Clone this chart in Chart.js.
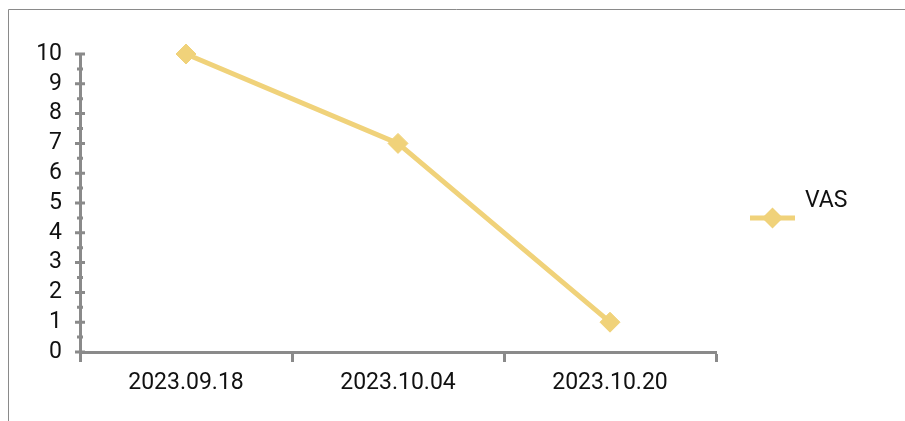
<!DOCTYPE html>
<html>
<head>
<meta charset="utf-8">
<script src="https://cdn.jsdelivr.net/npm/chart.js@4"></script>
<style>
  html, body { margin: 0; padding: 0; background: #fff; }
  #wrap { position: relative; width: 905px; height: 421px; }
</style>
</head>
<body>
<div id="wrap"><canvas id="c" width="905" height="421"></canvas></div>
<script>
const categories = ['2023.09.18', '2023.10.04', '2023.10.20'];
const seriesName = 'VAS';
const vasValues = [10, 7, 1];
const yTicks = [0, 1, 2, 3, 4, 5, 6, 7, 8, 9, 10];

const AXIS = '#8a8a8a';
const GOLD = '#f0d27a';
const FONT = 'Roboto, "Noto Sans", sans-serif';

// frame, crossing y-axis ticks (major + minor) and the legend entry
const decor = {
  id: 'decor',
  afterDraw(chart) {
    const ctx = chart.ctx;
    const y = chart.scales.y;
    const area = chart.chartArea;
    ctx.save();
    // outer frame
    ctx.strokeStyle = AXIS;
    ctx.lineWidth = 1;
    ctx.beginPath();
    ctx.moveTo(8.5, 421);
    ctx.lineTo(8.5, 9.5);
    ctx.lineTo(905, 9.5);
    ctx.stroke();
    // y-axis ticks
    ctx.lineWidth = 3;
    ctx.beginPath();
    yTicks.forEach(v => {
      const py = y.getPixelForValue(v);
      ctx.moveTo(area.left - 5, py);
      ctx.lineTo(area.left + 5, py);
      if (v < yTicks[yTicks.length - 1]) {
        const my = y.getPixelForValue(v + 0.5);
        ctx.moveTo(area.left - 3, my);
        ctx.lineTo(area.left + 3, my);
      }
    });
    ctx.stroke();
    // legend
    const ly = 218;
    ctx.strokeStyle = GOLD;
    ctx.lineWidth = 5;
    ctx.beginPath();
    ctx.moveTo(750, ly);
    ctx.lineTo(795, ly);
    ctx.stroke();
    ctx.fillStyle = GOLD;
    ctx.beginPath();
    ctx.moveTo(772.5, ly - 10.5);
    ctx.lineTo(783, ly);
    ctx.lineTo(772.5, ly + 10.5);
    ctx.lineTo(762, ly);
    ctx.closePath();
    ctx.fill();
    ctx.fillStyle = '#111';
    ctx.font = '23px ' + FONT;
    ctx.textAlign = 'left';
    ctx.textBaseline = 'middle';
    ctx.fillText(seriesName, 805, 201);
    ctx.restore();
  }
};

new Chart(document.getElementById('c'), {
  type: 'line',
  data: {
    labels: categories,
    datasets: [{
      label: seriesName,
      data: vasValues,
      borderColor: GOLD,
      backgroundColor: GOLD,
      borderWidth: 5,
      pointStyle: 'rectRot',
      pointRadius: 10,
      pointBorderWidth: 1,
      pointBorderColor: GOLD,
      pointBackgroundColor: GOLD,
      tension: 0,
      clip: false
    }]
  },
  options: {
    responsive: false,
    animation: false,
    events: [],
    layout: { padding: { left: 0, top: 54, right: 189, bottom: 0 } },
    plugins: { legend: { display: false }, tooltip: { enabled: false } },
    scales: {
      x: {
        type: 'category',
        offset: true,
        grid: {
          offset: true,
          drawOnChartArea: false,
          drawTicks: true,
          tickLength: 10,
          tickWidth: 3,
          tickColor: AXIS
        },
        border: { display: true, color: AXIS, width: 3 },
        ticks: { color: '#111', font: { family: FONT, size: 23 }, padding: 7, maxRotation: 0, autoSkip: false },
        afterFit(s) { s.height = 69; }
      },
      y: {
        min: 0,
        max: 10,
        grid: { display: false, drawTicks: false },
        border: { display: true, color: AXIS, width: 3 },
        ticks: { stepSize: 1, color: '#111', font: { family: FONT, size: 23 }, padding: 18, autoSkip: false },
        afterFit(s) { s.width = 80; }
      }
    }
  },
  plugins: [decor]
});
</script>
</body>
</html>
